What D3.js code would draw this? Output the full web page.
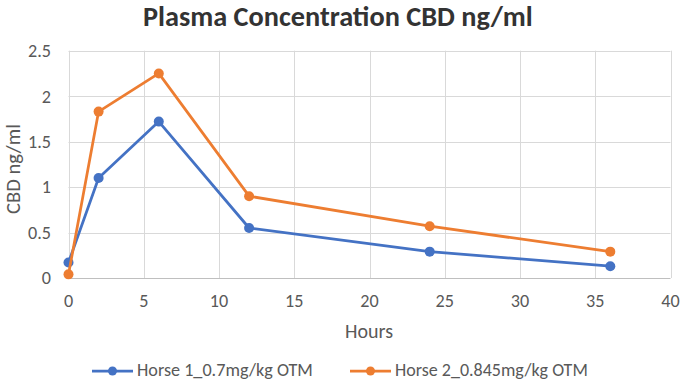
<!DOCTYPE html>
<html lang="en">
<head>
<meta charset="UTF-8">
<script src="https://d3js.org/d3.v7.min.js"></script>
<style>
  body {margin: 0; background: #fff;}
  text {font-family: Carlito, Lato, "Open Sans", sans-serif;}
</style>
</head>
<body>
<svg class="chart" width="685" height="381"></svg>
<script>
// chart data
const hours = [0, 2, 6, 12, 24, 36];
const horse1 = [0.17, 1.1, 1.72, 0.55, 0.29, 0.13];
const horse2 = [0.04, 1.83, 2.25, 0.9, 0.57, 0.29];
const seriesNames = ["Horse 1_0.7mg/kg OTM", "Horse 2_0.845mg/kg OTM"];
const seriesColors = ["#4472C4", "#ED7D31"];
const xTicks = [0, 5, 10, 15, 20, 25, 30, 35, 40];
const yTicks = [0, 0.5, 1, 1.5, 2, 2.5];

const svg = d3.select(".chart");
const plotLeft = 68.5, plotRight = 670.5, plotTop = 50.7, plotBottom = 278;

const x = d3.scaleLinear().domain([0, 40]).range([plotLeft, plotRight]);
const y = d3.scaleLinear().domain([0, 2.5]).range([plotBottom, plotTop]);

// scale a text's font size so that it spans the wanted width
function fitText(sel, width) {
  const fs = parseFloat(sel.attr("font-size"));
  const len = sel.node().getComputedTextLength();
  sel.attr("font-size", fs * width / len);
  return sel;
}

// tick font size taken from the "2.5" label width
const probe = svg.append("text").attr("font-size", 16).text("2.5");
fitText(probe, 23);
const tickSize = +probe.attr("font-size");
probe.remove();

// grid
svg.append("g").selectAll("line").data(yTicks.slice(1)).join("line")
  .attr("x1", plotLeft).attr("x2", plotRight)
  .attr("y1", d => Math.round(y(d)) + 0.5).attr("y2", d => Math.round(y(d)) + 0.5)
  .attr("stroke", "#d9d9d9").attr("stroke-width", 1);
svg.append("g").selectAll("line").data(xTicks).join("line")
  .attr("y1", plotTop).attr("y2", plotBottom)
  .attr("x1", d => Math.round(x(d)) + 0.5).attr("x2", d => Math.round(x(d)) + 0.5)
  .attr("stroke", "#d9d9d9").attr("stroke-width", 1);
svg.append("line").attr("x1", plotLeft).attr("x2", plotRight)
  .attr("y1", Math.round(plotBottom) + 0.5).attr("y2", Math.round(plotBottom) + 0.5)
  .attr("stroke", "#bfbfbf");

// tick labels
svg.append("g").selectAll("text").data(yTicks).join("text")
  .attr("x", 51).attr("y", d => y(d)).attr("dy", "0.35em")
  .attr("text-anchor", "end").attr("font-size", tickSize).attr("fill", "#595959")
  .text(d => d);
svg.append("g").selectAll("text").data(xTicks).join("text")
  .attr("x", d => x(d)).attr("y", 306.5)
  .attr("text-anchor", "middle").attr("font-size", tickSize).attr("fill", "#595959")
  .text(d => d);

// axis titles
fitText(svg.append("text").attr("x", 345).attr("y", 338)
  .attr("font-size", 18).attr("fill", "#595959")
  .text("Hours"), 48);
const yTitle = svg.append("text").attr("transform", "translate(19.5,214) rotate(-90)")
  .attr("font-size", 18).attr("fill", "#595959")
  .text("CBD ng/ml");
fitText(yTitle, 90);

// title
fitText(svg.append("text").attr("x", 143).attr("y", 26)
  .attr("font-size", 26).attr("font-weight", "bold")
  .attr("fill", "#333333")
  .text("Plasma Concentration CBD ng/ml"), 390);

// series
const line = d3.line().x(d => x(d[0])).y(d => y(d[1]));
[horse1, horse2].forEach((vals, i) => {
  const pts = hours.map((h, j) => [h, vals[j]]);
  svg.append("path").datum(pts).attr("d", line)
    .attr("fill", "none").attr("stroke", seriesColors[i]).attr("stroke-width", 2.75)
    .attr("stroke-linejoin", "round");
  svg.append("g").selectAll("circle").data(pts).join("circle")
    .attr("cx", d => x(d[0])).attr("cy", d => y(d[1])).attr("r", 5)
    .attr("fill", seriesColors[i]);
});

// legend
const legendX = [92, 350];
const legendTextW = [176, 193];
seriesNames.forEach((name, i) => {
  const g = svg.append("g").attr("transform", `translate(${legendX[i]},371)`);
  g.append("line").attr("x1", 0).attr("x2", 41).attr("y1", 0).attr("y2", 0)
    .attr("stroke", seriesColors[i]).attr("stroke-width", 2.75);
  g.append("circle").attr("cx", 20.5).attr("cy", 0).attr("r", 4.5).attr("fill", seriesColors[i]);
  fitText(g.append("text").attr("x", 45).attr("y", 4.5).attr("font-size", 16).attr("fill", "#595959")
    .text(name), legendTextW[i]);
});
</script>
</body>
</html>
